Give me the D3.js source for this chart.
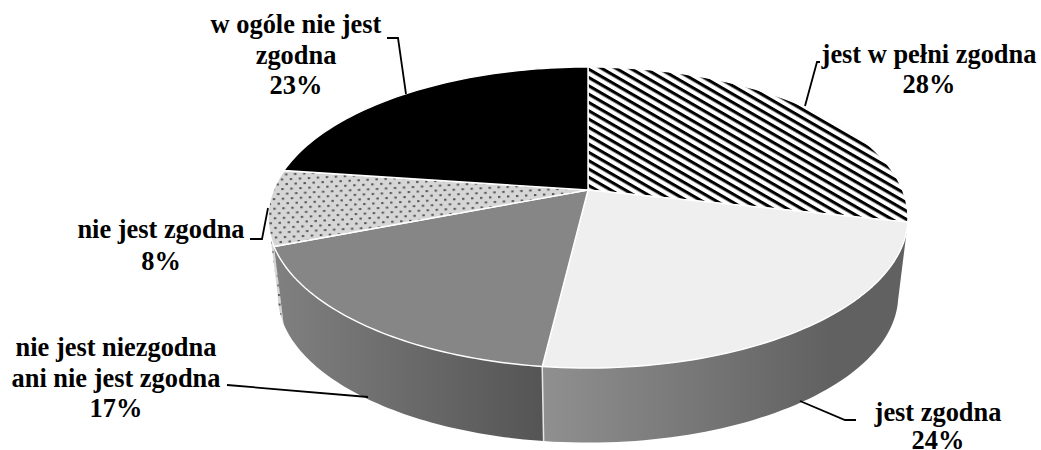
<!DOCTYPE html>
<html>
<head>
<meta charset="utf-8">
<script src="https://cdn.jsdelivr.net/npm/d3@7"></script>
<style>
  html, body { margin: 0; padding: 0; background: #fff; }
  text { font-family: "Liberation Serif", serif; font-weight: bold; font-size: 26.4px; fill: #000; text-anchor: middle; }
</style>
</head>
<body>
<div id="chart"></div>
<script>
// data
var categories = ["jest w pełni zgodna", "jest zgodna", "nie jest niezgodna ani nie jest zgodna", "nie jest zgodna", "w ogóle nie jest zgodna"];
var values = [28.4, 23.5, 17.2, 8.1, 22.8];
var labelLines = [
  ["jest w pełni zgodna"],
  ["jest zgodna"],
  ["nie jest niezgodna", "ani nie jest zgodna"],
  ["nie jest zgodna"],
  ["w ogóle nie jest", "zgodna"]
];

var width = 1041, height = 450;

// where each label sits and its leader line
var labelCenters = [[929, 63], [938, 421], [116, 356], [161, 238], [296, 33]];
var labelStep = [30, 28, 30.5, 31.5, 30.5];
var leaders = [
  [[805, 106], [817, 62], [820, 62]],
  [[800, 401], [845, 420], [856, 420]],
  [[227, 385], [368, 397]],
  [[250, 239], [262, 239], [268, 208]],
  [[387, 38], [398, 38], [406, 94]]
];

var svg = d3.select("#chart").append("svg")
  .attr("width", width)
  .attr("height", height)
  .style("display", "block");

var defs = svg.append("defs");

var hatch = defs.append("pattern")
  .attr("id", "hatch")
  .attr("patternUnits", "userSpaceOnUse")
  .attr("width", 7.2).attr("height", 7.2)
  .attr("patternTransform", "translate(588,67) rotate(30)");
hatch.append("rect").attr("width", 7.2).attr("height", 7.2).attr("fill", "#fff");
hatch.append("rect").attr("width", 7.2).attr("height", 3.1).attr("fill", "#000");

var dots = defs.append("pattern")
  .attr("id", "dots")
  .attr("patternUnits", "userSpaceOnUse")
  .attr("width", 9).attr("height", 9.6)
  .attr("patternTransform", "rotate(-3)");
dots.append("rect").attr("width", 9).attr("height", 9.6).attr("fill", "#d6d6d6");
dots.append("rect").attr("x", 1).attr("y", 1).attr("width", 2.4).attr("height", 2).attr("fill", "#555");
dots.append("rect").attr("x", 5.5).attr("y", 5.8).attr("width", 2.4).attr("height", 2).attr("fill", "#555");

function gradient(id, x1, x2, stops) {
  var g = defs.append("linearGradient").attr("id", id)
    .attr("gradientUnits", "userSpaceOnUse")
    .attr("x1", x1).attr("x2", x2).attr("y1", 0).attr("y2", 0);
  stops.forEach(function (s) {
    g.append("stop").attr("offset", s[0]).attr("stop-color", s[1]);
  });
}
gradient("sideRight", 541, 830, [[0, "#909090"], [1, "#616161"]]);
gradient("sideLeft", 275, 541, [[0, "#808080"], [1, "#555555"]]);

var topFills = ["url(#hatch)", "#efefef", "#868686", "url(#dots)", "#000000"];
var sideFills = [null, "url(#sideRight)", "url(#sideLeft)", "url(#dots)", null];

var pie = d3.pie().sort(null)(values);

// the disc is seen in perspective, so its centre is above the middle of the ellipse
var tilt = 0.1827;
var xTop = d3.scaleLinear().domain([-1, 1]).range([588 - 314.6, 588 + 314.6]);
var yTop = d3.scaleLinear().domain([0, 1]).range([190, 190 + 145.5]);
var xBottom = d3.scaleLinear().domain([-1, 1]).range([588 - 305, 588 + 305]);
var yBottom = d3.scaleLinear().domain([0, 1]).range([268.6, 268.6 + 142.2]);

function project(angle, xs, ys) {
  var u = Math.sin(angle), v = -Math.cos(angle), k = 1 - tilt * v;
  return [xs(u / k), ys(v / k)];
}

function arcPoints(a0, a1, xs, ys) {
  return d3.range(0, 61).map(function (i) {
    return project(a0 + (a1 - a0) * i / 60, xs, ys);
  });
}

var line = d3.line();

// sides first, the top face is painted over them
var leftEdge = 259.6 * Math.PI / 180;
var sides = svg.append("g");
[3, 2, 1].forEach(function (i) {
  var a0 = pie[i].startAngle, a1 = Math.min(pie[i].endAngle, leftEdge);
  var pts = arcPoints(a0, a1, xTop, yTop)
    .concat(arcPoints(a1, a0, xBottom, yBottom));
  sides.append("path")
    .attr("d", line(pts) + "Z")
    .attr("fill", sideFills[i]);
});
// seam between the two front slices
var seam = pie[1].endAngle;
sides.append("path")
  .attr("d", line([project(seam, xTop, yTop), project(seam, xBottom, yBottom)]))
  .attr("stroke", "#e6e6e6")
  .attr("stroke-width", 1.5)
  .attr("fill", "none");

var faces = svg.append("g");
pie.forEach(function (d, i) {
  var pts = [[xTop(0), yTop(0)]].concat(arcPoints(d.startAngle, d.endAngle, xTop, yTop));
  faces.append("path")
    .attr("d", line(pts) + "Z")
    .attr("fill", topFills[i])
    .attr("stroke", "#fff")
    .attr("stroke-width", 1.4)
    .attr("stroke-linejoin", "round");
});

// leaders
leaders.forEach(function (pts) {
  svg.append("path")
    .attr("d", line(pts))
    .attr("fill", "none")
    .attr("stroke", "#000")
    .attr("stroke-width", 1.8);
});

// labels
pie.forEach(function (d, i) {
  var lines = labelLines[i].concat([Math.round(values[i]) + "%"]);
  var t = svg.append("text").attr("aria-label", categories[i]);
  lines.forEach(function (s, j) {
    t.append("tspan")
      .attr("x", labelCenters[i][0])
      .attr("y", labelCenters[i][1] + j * labelStep[i])
      .text(s);
  });
});
</script>
</body>
</html>
